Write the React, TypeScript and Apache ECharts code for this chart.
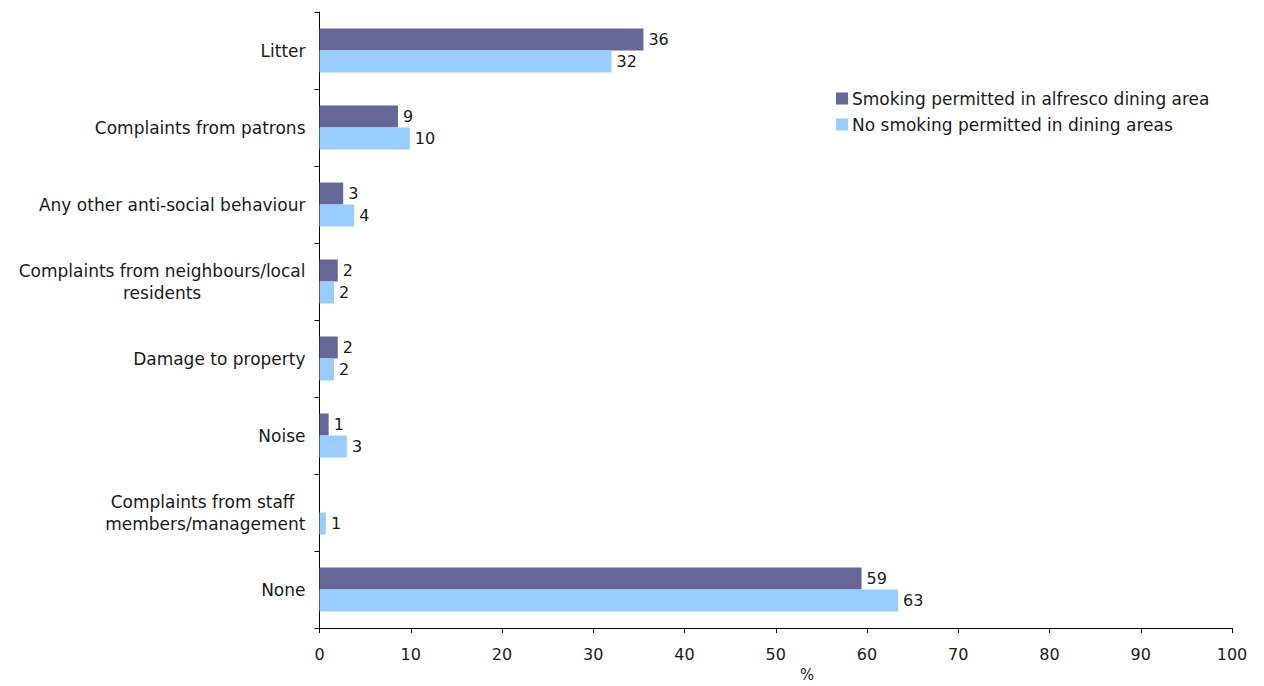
import React, { useEffect, useRef } from "react";
import * as echarts from "echarts";

const categories = [
  "Litter",
  "Complaints from patrons",
  "Any other anti-social behaviour",
  "Complaints from neighbours/local\nresidents",
  "Damage to property",
  "Noise",
  "Complaints from staff \nmembers/management",
  "None",
];
const smokingPermitted = [35.5, 8.6, 2.6, 2.0, 2.0, 1.0, null, 59.4];
const noSmoking = [32.0, 9.9, 3.8, 1.6, 1.6, 3.0, 0.7, 63.4];
const xTicks = { min: 0, max: 100, interval: 10 };
const seriesNames = [
  "Smoking permitted in alfresco dining area",
  "No smoking permitted in dining areas",
];

const FONT = "DejaVu Sans";
const TEXT = "#1a1a1a";
const CAT_SIZE = 17;
const NUM_SIZE = 16;

export default function App() {
  const ref = useRef<HTMLDivElement>(null);
  useEffect(() => {
    const chart = echarts.init(ref.current!, null, { renderer: "svg" });
    const label = {
      show: true,
      position: "right",
      distance: 5,
      color: TEXT,
      fontFamily: FONT,
      fontSize: NUM_SIZE,
      formatter: (p: any) => (p.value == null ? "" : String(Math.round(p.value))),
    };
    chart.setOption({
      animation: false,
      textStyle: { fontFamily: FONT },
      grid: { left: 319.5, right: 32, top: 12, bottom: 58, containLabel: false },
      legend: {
        orient: "vertical",
        left: 831,
        top: 85,
        itemWidth: 12,
        itemHeight: 12,
        itemGap: 9,
        icon: "rect",
        textStyle: { fontFamily: FONT, fontSize: CAT_SIZE, color: TEXT, padding: [0, 0, 0, -1] },
        data: seriesNames,
      },
      xAxis: {
        type: "value",
        min: xTicks.min,
        max: xTicks.max,
        interval: xTicks.interval,
        axisLine: { show: true, lineStyle: { color: "#000", width: 1 } },
        axisTick: { show: true, length: 5, lineStyle: { color: "#000" } },
        splitLine: { show: false },
        axisLabel: { color: TEXT, fontFamily: FONT, fontSize: NUM_SIZE, margin: 18 },
      },
      yAxis: {
        type: "category",
        inverse: true,
        data: categories,
        axisLine: { show: true, lineStyle: { color: "#000", width: 1 } },
        axisTick: { show: true, length: 5, lineStyle: { color: "#000" } },
        axisLabel: {
          color: TEXT,
          fontFamily: FONT,
          fontSize: CAT_SIZE,
          margin: 14,
          lineHeight: 22,
          formatter: (v: string) =>
            v
              .split("\n")
              .map((s) => "{c|" + s + "}")
              .join("\n"),
          rich: {
            c: { align: "center", fontFamily: FONT, fontSize: CAT_SIZE, color: TEXT, lineHeight: 22 },
          },
        },
      },
      series: [
        {
          name: seriesNames[0],
          type: "bar",
          data: smokingPermitted,
          barWidth: 22,
          barGap: "0%",
          barCategoryGap: "43%",
          itemStyle: { color: "#666699" },
          label,
        },
        {
          name: seriesNames[1],
          type: "bar",
          data: noSmoking,
          barWidth: 22,
          barGap: "0%",
          barCategoryGap: "43%",
          itemStyle: { color: "#99CCFF" },
          label,
        },
      ],
      graphic: [
        {
          type: "text",
          left: 800,
          top: 667,
          style: { text: "%", fontFamily: FONT, fontSize: 15, fill: TEXT },
        },
      ],
    });
    return () => chart.dispose();
  }, []);
  return <div ref={ref} style={{ width: 1264, height: 686, position: "absolute", left: 0, top: 0 }} />;
}
